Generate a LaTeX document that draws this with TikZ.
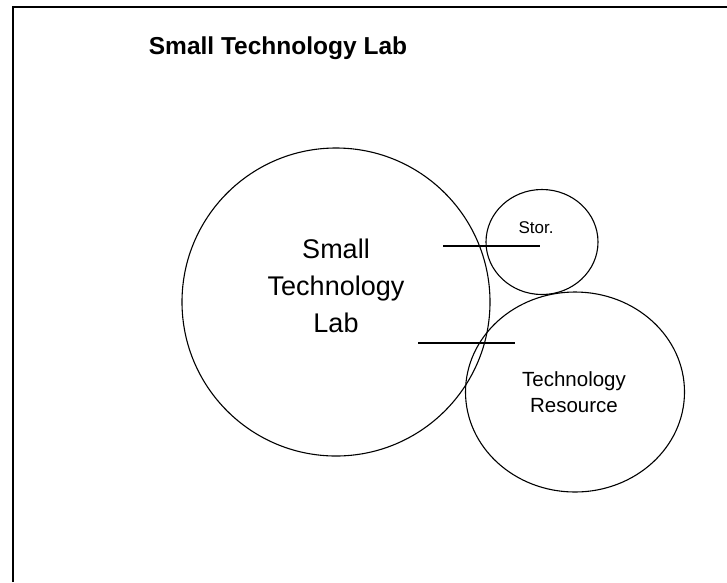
\documentclass[tikz,border=0pt]{standalone}
\usepackage{fontspec}
\setmainfont{Liberation Sans}
\usetikzlibrary{shapes.geometric}
\begin{document}
\begin{tikzpicture}[x=1pt,y=-1pt,
  outline/.style={draw=black,line width=1.1pt,inner sep=0pt},
  linkline/.style={draw=black,line width=1.3pt},
  frameline/.style={draw=black,line width=1.6pt}]
\useasboundingbox (0,0) rectangle (727,582);
% frame
\coordinate (fbl) at (13,582);
\coordinate (ftl) at (13,7);
\coordinate (ftr) at (727,7);
\draw[frameline] (fbl) -- (ftl) -- (ftr);
% title
\node[font=\bfseries\fontsize{24.5}{28}\selectfont,anchor=base] (title) at (278,54) {Small Technology Lab};
% shapes
\node[outline,circle,minimum size=308pt] (lab) at (336,302) {};
\node[outline,ellipse,minimum width=112pt,minimum height=105pt] (stor) at (542,242) {};
\node[outline,ellipse,minimum width=219pt,minimum height=200pt] (res) at (575,392) {};
% labels
\node[font=\fontsize{27}{37}\selectfont,align=center,anchor=base] (labtext) at (336,332) {Small\\Technology\\Lab};
\node[font=\fontsize{17}{20}\selectfont,anchor=base] (stortext) at (536,233) {Stor.};
\node[font=\fontsize{20.5}{26}\selectfont,align=center,anchor=base] (restext) at (574,412) {Technology\\Resource};
% connectors
\coordinate (l1a) at (443,246);
\coordinate (l1b) at (540,246);
\coordinate (l2a) at (418,343);
\coordinate (l2b) at (515,343);
\draw[linkline] (l1a) -- (l1b);
\draw[linkline] (l2a) -- (l2b);
\end{tikzpicture}
\end{document}
